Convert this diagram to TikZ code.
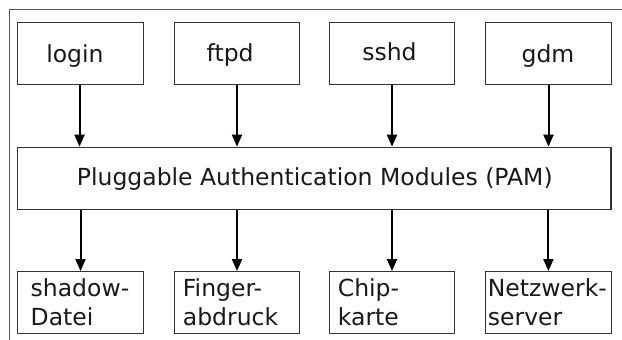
\documentclass[tikz,border=0pt]{standalone}
\usepackage{fontspec}
\setmainfont{DejaVu Sans}
\usetikzlibrary{arrows.meta}
\begin{document}
\begin{tikzpicture}[x=1pt,y=-1pt,
  box/.style={draw=black!80,line width=1.3pt,inner sep=0pt,minimum width=125.6pt,minimum height=62.4pt},
  lbl/.style={inner sep=0pt,anchor=base west,font=\fontsize{23.5}{29}\selectfont,text=black!90},
  lbl2/.style={lbl,align=left},
  arr/.style={line width=2pt,-{Triangle[width=10pt,length=12pt]}},
  frame/.style={draw=black!65,line width=1.3pt}]
\useasboundingbox (0,0) rectangle (622,340);
\coordinate (fr-a) at (9.3,340);
\coordinate (fr-b) at (9.3,9.3);
\coordinate (fr-c) at (622,9.3);
\draw[frame] (fr-a) -- (fr-b) -- (fr-c);
% top boxes
\node[box] (login) at (80.5,53.5) {};
\node[box] (ftpd) at (237,53.5) {};
\node[box] (sshd) at (392,53.5) {};
\node[box] (gdm) at (548.5,53.5) {};
\node[lbl] (login-t) at (46.1,63) {login};
\node[lbl] (ftpd-t) at (206.5,61.5) {ftpd};
\node[lbl] (sshd-t) at (362.1,60) {sshd};
\node[lbl] (gdm-t) at (521.4,62.5) {gdm};
% PAM
\node[box,minimum width=593.3pt,minimum height=62pt] (pam) at (314.35,178.3) {};
\node[lbl] (pam-t) at (76.7,185.7) {Pluggable Authentication Modules (PAM)};
% bottom boxes
\node[box,minimum height=61.8pt] (shadow) at (80.5,302.6) {};
\node[box,minimum height=61.8pt] (finger) at (237,302.6) {};
\node[box,minimum height=61.8pt] (chip) at (392,302.6) {};
\node[box,minimum height=61.8pt] (netz) at (548.4,302.6) {};
\node[lbl2] (shadow-t) at (30.5,325) {shadow-\\Datei};
\node[lbl2] (finger-t) at (182.7,325) {Finger-\\abdruck};
\node[lbl2] (chip-t) at (337.7,325) {Chip-\\karte};
\node[lbl2] (netz-t) at (487.7,325) {Netzwerk-\\server};
% arrows
\draw[arr] ([xshift=-1pt]login.south) -- ([xshift=-1pt]login.south |- pam.north);
\draw[arr] (ftpd.south) -- (ftpd.south |- pam.north);
\draw[arr] (sshd.south) -- (sshd.south |- pam.north);
\draw[arr] (gdm.south) -- (gdm.south |- pam.north);
\draw[arr] (pam.south -| shadow.north) -- (shadow.north);
\draw[arr] (pam.south -| finger.north) -- (finger.north);
\draw[arr] (pam.south -| chip.north) -- (chip.north);
\draw[arr] (pam.south -| netz.north) -- (netz.north);
\end{tikzpicture}
\end{document}
